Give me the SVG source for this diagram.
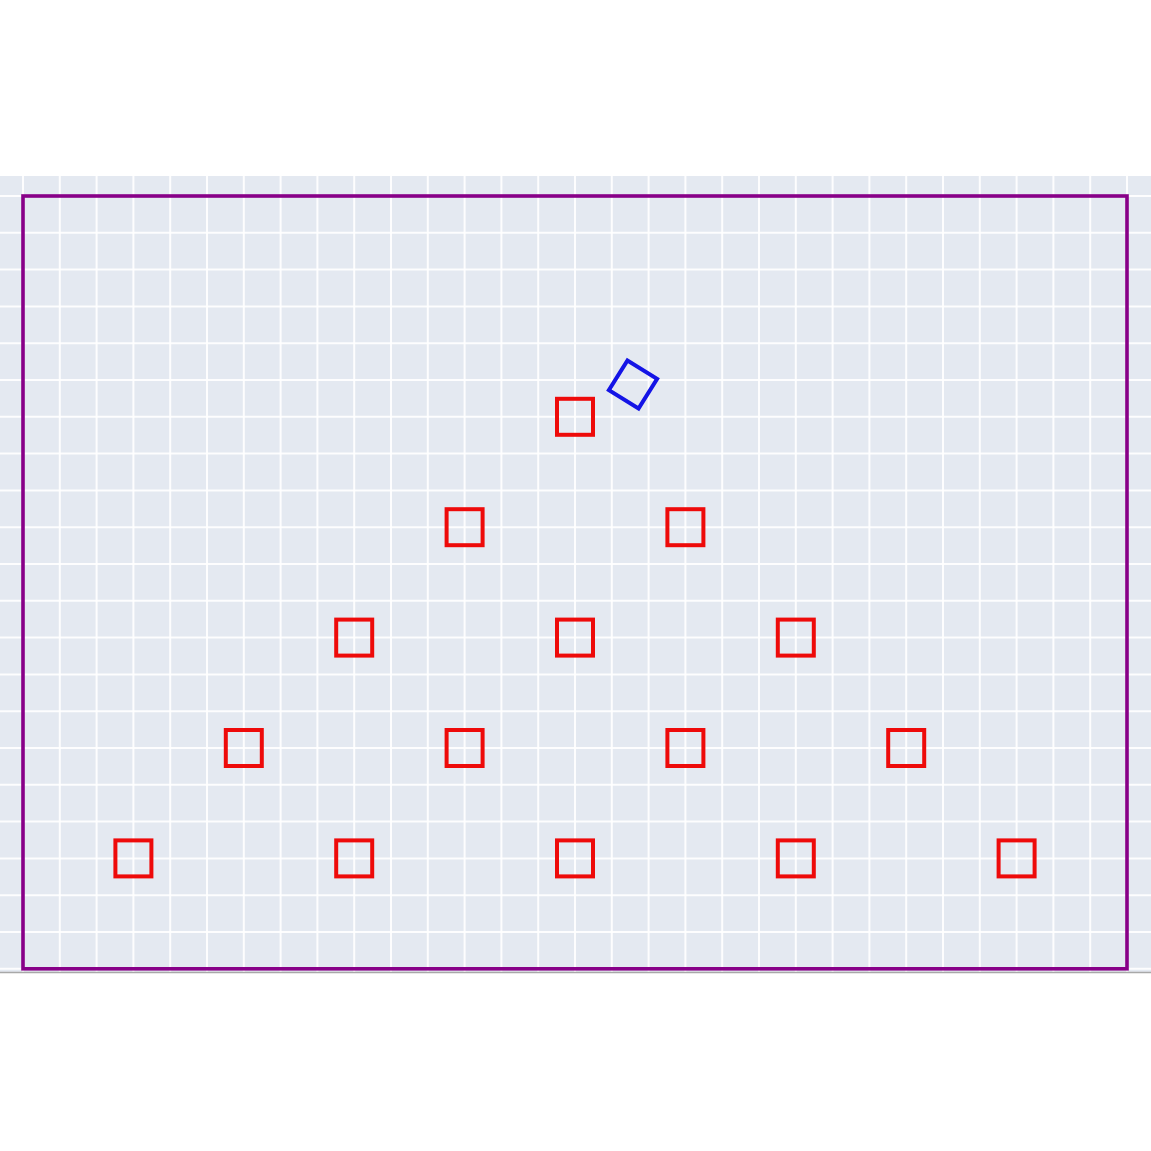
<svg xmlns="http://www.w3.org/2000/svg" width="1151" height="1151" viewBox="0 0 1151 1151">
<style>
.grid{stroke:#ffffff;stroke-width:2;fill:none;opacity:0.9}
.red{fill:none;stroke:#ee0a0a;stroke-width:4}
.blue{fill:none;stroke:#1414e6;stroke-width:4}
.frame{fill:none;stroke:#880088;stroke-width:3.6}
</style>
<rect x="0" y="0" width="1151" height="1151" fill="#ffffff"/>
<rect x="0" y="176" width="1151" height="796" fill="#e4e9f1"/>
<g id="grid">
<path class="grid" d="M23 176V972M59.8 176V972M96.6 176V972M133.4 176V972M170.2 176V972M207 176V972M243.8 176V972M280.6 176V972M317.4 176V972M354.2 176V972M391 176V972M427.8 176V972M464.6 176V972M501.4 176V972M538.2 176V972M575 176V972M611.8 176V972M648.6 176V972M685.4 176V972M722.2 176V972M759 176V972M795.8 176V972M832.6 176V972M869.4 176V972M906.2 176V972M943 176V972M979.8 176V972M1016.6 176V972M1053.4 176V972M1090.2 176V972M1127 176V972"/>
<path class="grid" d="M0 196H1151M0 232.8H1151M0 269.6H1151M0 306.4H1151M0 343.2H1151M0 380H1151M0 416.8H1151M0 453.6H1151M0 490.4H1151M0 527.2H1151M0 564H1151M0 600.8H1151M0 637.6H1151M0 674.4H1151M0 711.2H1151M0 748H1151M0 784.8H1151M0 821.6H1151M0 858.4H1151M0 895.2H1151M0 932H1151M0 968.8H1151"/>
</g>
<line x1="0" y1="972.5" x2="1151" y2="972.5" stroke="#a8a8a8" stroke-width="1.5"/>
<g id="frame"><rect class="frame" x="23" y="196" width="1104" height="772.8"/></g>
<g id="connectors"></g>
<g id="r1"><rect class="red" x="557" y="398.8" width="36" height="36"/></g>
<g id="r2a"><rect class="red" x="446.6" y="509.2" width="36" height="36"/></g>
<g id="r2b"><rect class="red" x="667.4" y="509.2" width="36" height="36"/></g>
<g id="r3a"><rect class="red" x="336.2" y="619.6" width="36" height="36"/></g>
<g id="r3b"><rect class="red" x="557" y="619.6" width="36" height="36"/></g>
<g id="r3c"><rect class="red" x="777.8" y="619.6" width="36" height="36"/></g>
<g id="r4a"><rect class="red" x="225.8" y="730" width="36" height="36"/></g>
<g id="r4b"><rect class="red" x="446.6" y="730" width="36" height="36"/></g>
<g id="r4c"><rect class="red" x="667.4" y="730" width="36" height="36"/></g>
<g id="r4d"><rect class="red" x="888.2" y="730" width="36" height="36"/></g>
<g id="r5a"><rect class="red" x="115.4" y="840.4" width="36" height="36"/></g>
<g id="r5b"><rect class="red" x="336.2" y="840.4" width="36" height="36"/></g>
<g id="r5c"><rect class="red" x="557" y="840.4" width="36" height="36"/></g>
<g id="r5d"><rect class="red" x="777.8" y="840.4" width="36" height="36"/></g>
<g id="r5e"><rect class="red" x="998.6" y="840.4" width="36" height="36"/></g>
<g id="blue"><rect class="blue" x="-17.5" y="-17.5" width="35" height="35" transform="translate(633 384.5) rotate(32)"/></g>
</svg>
